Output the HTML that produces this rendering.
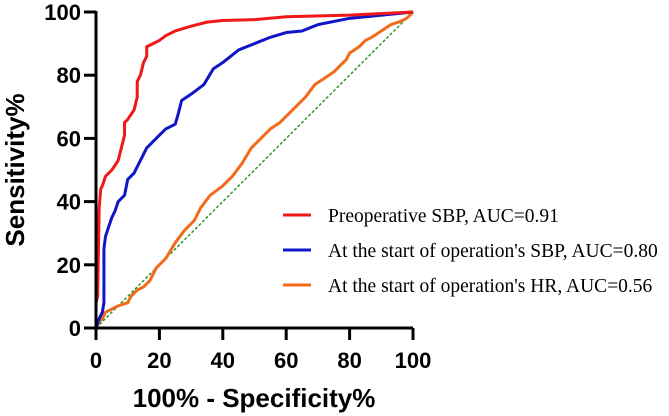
<!DOCTYPE html>
<html><head><meta charset="utf-8"><style>
body{margin:0;background:#fff;}
svg{display:block;}
.tick{font-family:"Liberation Sans",sans-serif;font-weight:bold;font-size:22px;fill:#000;}
.title{font-family:"Liberation Sans",sans-serif;font-weight:bold;font-size:26px;fill:#000;}
.leg{font-family:"Liberation Serif",serif;font-size:19.5px;fill:#000;}
</style></head><body>
<svg id="chart" width="669" height="416" viewBox="0 0 669 416">
<g id="plot"></g>
</svg>
<script>
const xTicks=[0,20,40,60,80,100];
const yTicks=[0,20,40,60,80,100];
const redX=[0,0,0.5,1,1.5,2,3,5,7,8,9,9,10,12,13,13,14,15,16,16,18,20,22,25,30,35,40,50,60,80,100];
const redY=[0,8,10,38,44,45,48,50,53,57,61,65,66,69,73,78,80,84,86,89,90,91,92.5,94,95.5,96.8,97.3,97.6,98.5,99,100];
const blueX=[0,1,2,2.5,2.5,3,4,5,6,7,9,10,12,13,15,16,18,20,22,25,26,27,30,34,37,40,45,50,55,60,65,70,80,100];
const blueY=[0,3,5,8,25,29,32,35,37,40,42,47,49,51,55,57,59,61,63,64.5,68,72,74,77,82,84,88,90,92,93.5,94,96,98,100];
const orangeX=[0,1,2,3,5,7,10,11,13,15,17,19,22,25,28,31,33,36,40,43,46,49,52,55,58,62,66,69,72,75,77,79,80,83,85,87,90,93,96,98,100];
const orangeY=[0,2,3,5,6,7,8,10,12,13,15,19,22,27,31,34,38,42,45,48,52,57,60,63,65,69,73,77,79,81,83,85,87,89,91,92,94,96,97,98,100];
const legendLabels=["Preoperative SBP, AUC=0.91","At the start of operation's SBP, AUC=0.80","At the start of operation's HR, AUC=0.56"];
const X0=96,X1=413,Y0=328,Y1=12;
const sx=v=>X0+(X1-X0)*v/100;
const sy=v=>Y0-(Y0-Y1)*v/100;
const NS="http://www.w3.org/2000/svg";
const g=document.getElementById('plot');
function mk(t,a){const e=document.createElementNS(NS,t);for(const k in a)e.setAttribute(k,a[k]);g.appendChild(e);return e;}
let d=mk('line',{x1:sx(0),y1:sy(0),x2:sx(100),y2:sy(100),stroke:'#2a9a2a','stroke-width':1.5,'stroke-dasharray':'3,2'});


function series(xs,ys,col,name){
 const p=xs.map((x,i)=>sx(x)+','+sy(ys[i])).join(' ');
 const e=mk('polyline',{points:p,fill:'none',stroke:col,'stroke-width':3,'stroke-linejoin':'round'});
 
 
}
series(orangeX,orangeY,'#f26a1b','orange-hr-curve');
series(blueX,blueY,'#0f16c8','blue-start-sbp-curve');
series(redX,redY,'#f01818','red-preop-sbp-curve');
let ax=mk('path',{d:`M${X0},${Y1-1} V${Y0} H${X1}`,fill:'none',stroke:'#000','stroke-width':3});


xTicks.forEach(v=>{
 mk('line',{x1:sx(v),y1:Y0,x2:sx(v),y2:Y0+12,stroke:'#000','stroke-width':3});
 const t=mk('text',{x:sx(v),y:Y0+40,'text-anchor':'middle',class:'tick'});t.textContent=v;
 
 
});
yTicks.forEach(v=>{
 mk('line',{x1:X0-12,y1:sy(v),x2:X0,y2:sy(v),stroke:'#000','stroke-width':3});
 const t=mk('text',{x:X0-15,y:sy(v)+8,'text-anchor':'end',class:'tick'});t.textContent=v;
 
 
});
let xt=mk('text',{x:254,y:407,'text-anchor':'middle',class:'title'});xt.textContent='100% - Specificity%';


let yt=mk('text',{x:0,y:0,'text-anchor':'middle',class:'title',transform:'translate(24,170) rotate(-90)'});yt.textContent='Sensitivity%';


const cols=['#f01818','#0f16c8','#f26a1b'];
const ly=[215,250,285];
legendLabels.forEach((s,i)=>{
 const l=mk('line',{x1:283,y1:ly[i],x2:311,y2:ly[i],stroke:cols[i],'stroke-width':3});
 
 
 const t=mk('text',{x:328,y:ly[i]+7,class:'leg'});t.textContent=s;
 
 
});
</script>
</body></html>
